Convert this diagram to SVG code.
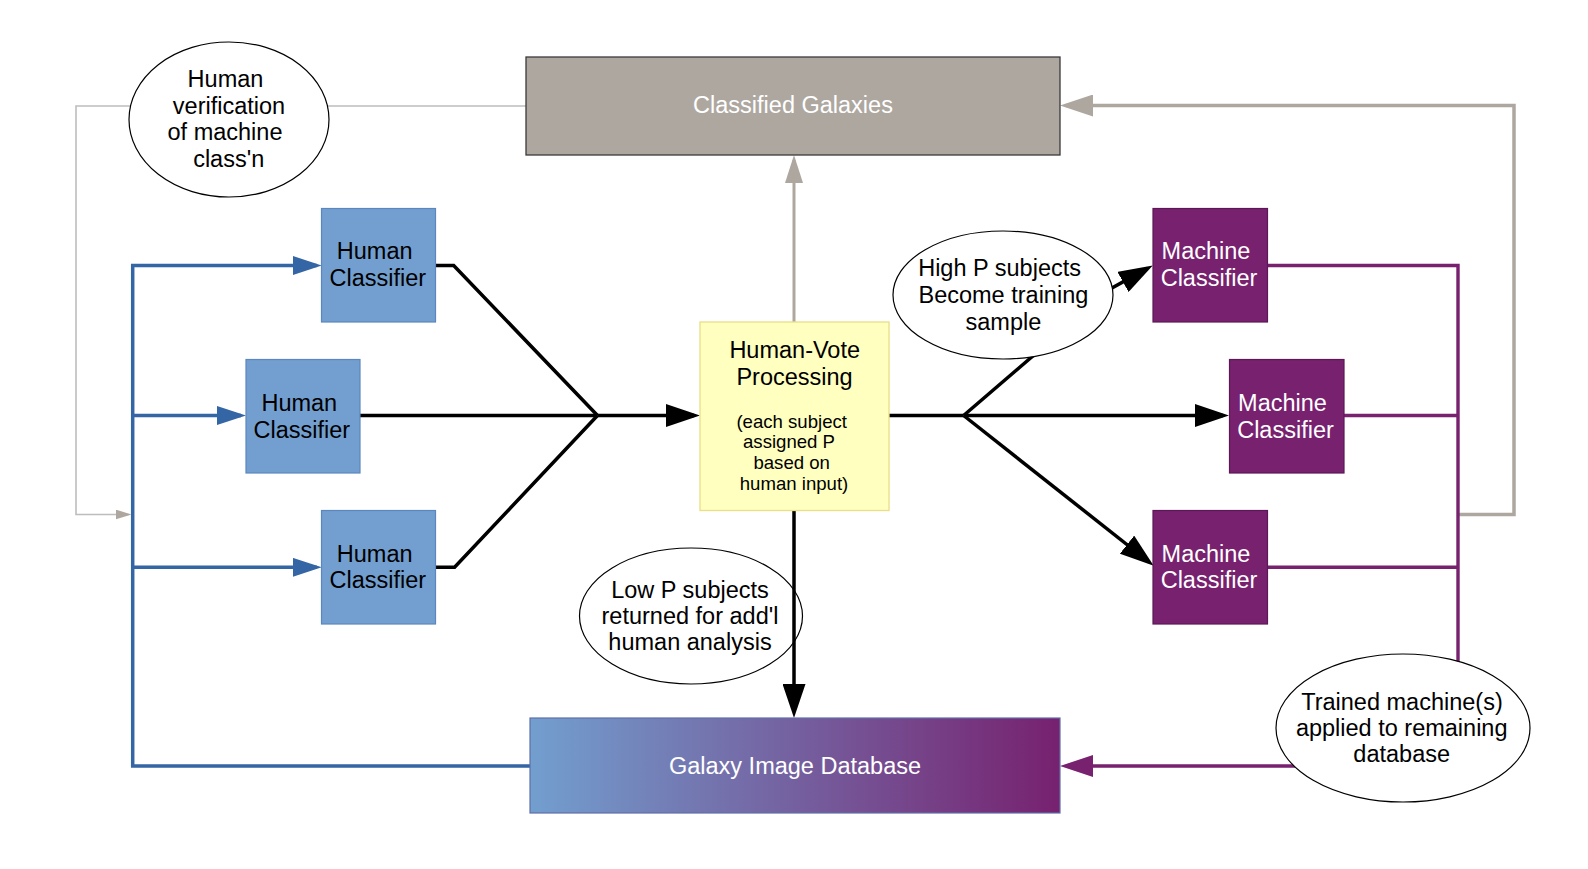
<svg xmlns="http://www.w3.org/2000/svg" width="1588" height="869" viewBox="0 0 1588 869">
<style>
text{font-family:"Liberation Sans",Arial,sans-serif;font-size:23.5px;text-anchor:middle;fill:#000}
.w{fill:#fff}
.s{font-size:18.6px}
.hc{fill:#729fcf;stroke:#5a87bf;stroke-width:1.2}
.mc{fill:#77216f;stroke:#5c1856;stroke-width:1.2}
.el{fill:#fff;stroke:#000;stroke-width:1.2}
.blk{fill:none;stroke:#000;stroke-width:3.5}
.blu{fill:none;stroke:#3465a4;stroke-width:3.5}
.pur{fill:none;stroke:#77216f;stroke-width:3.4}
.gry{fill:none;stroke:#aea79f;stroke-width:3.5}
.gryt{fill:none;stroke:#bdbdbd;stroke-width:1.6}
</style>
<defs>
<linearGradient id="gdb" x1="0" y1="0" x2="1" y2="0">
<stop offset="0" stop-color="#729fcf"/>
<stop offset="1" stop-color="#77216f"/>
</linearGradient>
<marker id="mBlack" markerUnits="userSpaceOnUse" markerWidth="34" markerHeight="23" viewBox="0 0 34 23" refX="28" refY="11.5" orient="auto"><path d="M0,0 L34,11.5 L0,23 z" fill="#000"/></marker>
<marker id="mBlue" markerUnits="userSpaceOnUse" markerWidth="29" markerHeight="19" viewBox="0 0 29 19" refX="24" refY="9.5" orient="auto"><path d="M0,0 L29,9.5 L0,19 z" fill="#3465a4"/></marker>
<marker id="mPurple" markerUnits="userSpaceOnUse" markerWidth="33" markerHeight="22" viewBox="0 0 33 22" refX="27" refY="11" orient="auto"><path d="M0,0 L33,11 L0,22 z" fill="#77216f"/></marker>
<marker id="mGray" markerUnits="userSpaceOnUse" markerWidth="33" markerHeight="22" viewBox="0 0 33 22" refX="27" refY="11" orient="auto"><path d="M0,0 L33,11 L0,22 z" fill="#aea79f"/></marker>
<marker id="mGrayUp" markerUnits="userSpaceOnUse" markerWidth="28" markerHeight="18" viewBox="0 0 28 18" refX="23" refY="9" orient="auto"><path d="M0,0 L28,9 L0,18 z" fill="#aea79f"/></marker>
<marker id="mGraySmall" markerUnits="userSpaceOnUse" markerWidth="16" markerHeight="10" viewBox="0 0 16 10" refX="13" refY="5" orient="auto"><path d="M0,0 L16,5 L0,10 z" fill="#aea79f"/></marker>
</defs>
<rect width="1588" height="869" fill="#fff"/>

<g id="lowp">
<ellipse class="el" cx="691" cy="616" rx="111.5" ry="68"/>
<text x="690" y="598">Low P subjects</text>
<text x="690" y="624">returned for add'l</text>
<text x="690" y="650">human analysis</text>
</g>

<g id="connectors">
<path class="gryt" d="M526,106 H76 V514.5 H128.5" marker-end="url(#mGraySmall)"/>
<path class="gry" d="M1458,514.5 H1514 V105.5 H1066" marker-end="url(#mGray)"/>
<path class="gry" style="stroke-width:3" d="M794,322 V160" marker-end="url(#mGrayUp)"/>
<path class="blu" d="M530,766 H132.7 V265.5 H316.7" marker-end="url(#mBlue)"/>
<path class="blu" d="M132.7,415.5 H241" marker-end="url(#mBlue)"/>
<path class="blu" d="M132.7,567.3 H316.7" marker-end="url(#mBlue)"/>
<path class="blk" d="M435.5,265.5 H453.7 L597.5,415.5"/>
<path class="blk" d="M359.5,415.5 H597.5"/>
<path class="blk" d="M435.5,567.3 H454.6 L597.5,415.5"/>
<path class="blk" d="M597.5,415.5 H694" marker-end="url(#mBlack)"/>
<path class="blk" d="M889,415.5 H963.6"/>
<path class="blk" d="M963.6,415.5 H1223" marker-end="url(#mBlack)"/>
<path class="blk" d="M963.6,415.5 L1112,288 L1147.5,268.4" marker-end="url(#mBlack)"/>
<path class="blk" d="M963.6,415.5 L1149,562" marker-end="url(#mBlack)"/>
<path class="blk" d="M794,510.5 V712" marker-end="url(#mBlack)"/>
<path class="pur" d="M1267.5,265.5 H1458 V766 H1066" marker-end="url(#mPurple)"/>
<path class="pur" d="M1344,415.5 H1458"/>
<path class="pur" d="M1267.5,567.3 H1458"/>
</g>

<g id="classified">
<rect x="526" y="57" width="534" height="98" fill="#aea79f" stroke="#3a3a3a" stroke-width="1.3"/>
<text class="w" x="793" y="113">Classified Galaxies</text>
</g>

<g id="verify">
<ellipse class="el" cx="229" cy="119.5" rx="100" ry="77.5"/>
<text x="225.5" y="87">Human</text>
<text x="229" y="114">verification</text>
<text x="225" y="140">of machine</text>
<text x="228.7" y="167">class'n</text>
</g>

<g id="hc1">
<rect class="hc" x="321.5" y="208.5" width="114" height="113.5"/>
<text x="374.7" y="259">Human</text>
<text x="377.8" y="286">Classifier</text>
</g>
<g id="hc2">
<rect class="hc" x="246" y="359.5" width="114" height="113.5"/>
<text x="299.3" y="411">Human</text>
<text x="301.8" y="437.5">Classifier</text>
</g>
<g id="hc3">
<rect class="hc" x="321.5" y="510.5" width="114" height="113.5"/>
<text x="374.7" y="562">Human</text>
<text x="377.8" y="588">Classifier</text>
</g>

<g id="hvp">
<rect x="700" y="322" width="189" height="188.5" fill="#ffffc0" stroke="#eadf86" stroke-width="1.3"/>
<text x="794.7" y="358">Human-Vote</text>
<text x="794.5" y="385">Processing</text>
<text class="s" x="791.7" y="427.7">(each subject</text>
<text class="s" x="789" y="448.3">assigned P</text>
<text class="s" x="791.7" y="469">based on</text>
<text class="s" x="794" y="490">human input)</text>
</g>

<g id="highp">
<ellipse class="el" cx="1003" cy="295" rx="110" ry="64"/>
<text x="999.6" y="276">High P subjects</text>
<text x="1003.4" y="303">Become training</text>
<text x="1003.4" y="329.5">sample</text>
</g>

<g id="mc1">
<rect class="mc" x="1153" y="208.5" width="114.5" height="113.5"/>
<text class="w" x="1206" y="259">Machine</text>
<text class="w" x="1209" y="286">Classifier</text>
</g>
<g id="mc2">
<rect class="mc" x="1229.5" y="359.5" width="114.5" height="113.5"/>
<text class="w" x="1282.5" y="411">Machine</text>
<text class="w" x="1285.5" y="437.5">Classifier</text>
</g>
<g id="mc3">
<rect class="mc" x="1153" y="510.5" width="114.5" height="113.5"/>
<text class="w" x="1206" y="562">Machine</text>
<text class="w" x="1209" y="588">Classifier</text>
</g>

<g id="trained">
<ellipse class="el" cx="1403" cy="728" rx="127" ry="74"/>
<text x="1402" y="710">Trained machine(s)</text>
<text x="1401.7" y="736">applied to remaining</text>
<text x="1401.7" y="762.3">database</text>
</g>

<g id="gid">
<rect x="530" y="718" width="530" height="95" fill="url(#gdb)" stroke="#5f6fa8" stroke-width="1.2"/>
<text class="w" x="795" y="774">Galaxy Image Database</text>
</g>
</svg>
